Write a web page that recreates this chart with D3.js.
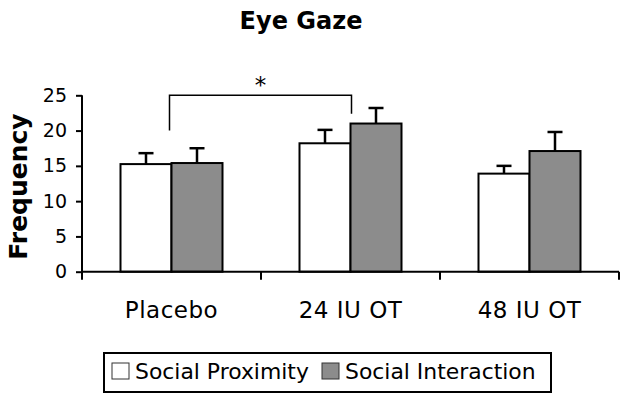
<!DOCTYPE html>
<html><head><meta charset="utf-8">
<script src="https://cdn.jsdelivr.net/npm/d3@7/dist/d3.min.js"></script>
<style>
html,body{margin:0;padding:0;background:#fff;}
svg{display:block;}
text{font-family:"DejaVu Sans",Verdana,sans-serif;fill:#000;}
</style></head>
<body>
<svg id="chart" width="629" height="404"></svg>
<script>
const categories = ["Placebo", "24 IU OT", "48 IU OT"];
const seriesNames = ["Social Proximity", "Social Interaction"];
const proximity = [15.25, 18.2, 13.9];
const proximityErr = [1.55, 1.9, 1.1];
const interaction = [15.4, 21.0, 17.1];
const interactionErr = [2.1, 2.2, 2.7];
const yTicks = [0, 5, 10, 15, 20, 25];
const sigFrom = "Placebo", sigTo = "24 IU OT";
const sigLeftValue = 20, sigRightValue = 22.4, sigTopValue = 25;
const titleText = "Eye Gaze";
const yLabel = "Frequency";

const colors = ["#ffffff", "#8c8c8c"];
const svg = d3.select("#chart");
const pLeft = 82, pRight = 619, pTop = 95.3, pBottom = 271.7;

const x = d3.scaleBand().domain(categories).range([pLeft, pRight]).padding(0);
const bw = x.bandwidth();
const barW = 51;
const xs = d3.scaleBand().domain(seriesNames).range([bw / 2 - barW, bw / 2 + barW]).padding(0);
const y = d3.scaleLinear().domain([0, 25]).range([pBottom, pTop]);

const rows = categories.map((c, i) => ({
  cat: c,
  vals: [
    {s: seriesNames[0], v: proximity[i], e: proximityErr[i], c: colors[0]},
    {s: seriesNames[1], v: interaction[i], e: interactionErr[i], c: colors[1]}
  ]
}));

// title
svg.append("text").attr("x", 301).attr("y", 29).attr("text-anchor", "middle")
  .attr("font-weight", "bold").attr("font-size", 24).text(titleText);

// y label
svg.append("text").attr("transform", `translate(27,${(pTop + pBottom) / 2 + 3}) rotate(-90)`)
  .attr("text-anchor", "middle").attr("font-weight", "bold").attr("font-size", 25).text(yLabel);

// bars + errors
const g = svg.append("g");
rows.forEach(r => {
  const gx = x(r.cat);
  r.vals.forEach(d => {
    const bx = gx + xs(d.s);
    const cx = bx + xs.bandwidth() / 2;
    g.append("line").attr("x1", cx).attr("x2", cx).attr("y1", y(d.v)).attr("y2", y(d.v + d.e))
      .attr("stroke", "#000").attr("stroke-width", 2.5);
    g.append("line").attr("x1", cx - 7.5).attr("x2", cx + 7.5).attr("y1", y(d.v + d.e)).attr("y2", y(d.v + d.e))
      .attr("stroke", "#000").attr("stroke-width", 2.5);
    g.append("rect").attr("x", bx).attr("y", y(d.v)).attr("width", xs.bandwidth()).attr("height", y(0) - y(d.v))
      .attr("fill", d.c).attr("stroke", "#000").attr("stroke-width", 2);
  });
});

// y axis
const yAxis = d3.axisLeft(y).tickValues(yTicks).tickSize(6).tickPadding(9).tickSizeOuter(0);
const ya = svg.append("g").attr("transform", `translate(${pLeft},0)`).call(yAxis);
ya.select(".domain").remove();
ya.selectAll(".tick line").attr("stroke", "#000").attr("stroke-width", 2);
ya.selectAll(".tick text").attr("font-size", 19).attr("font-family", '"DejaVu Sans",Verdana,sans-serif').attr("fill", "#000");
svg.append("line").attr("x1", pLeft).attr("x2", pLeft).attr("y1", pTop).attr("y2", pBottom + 8)
  .attr("stroke", "#000").attr("stroke-width", 2);

// x axis
svg.append("line").attr("x1", pLeft).attr("x2", pRight).attr("y1", pBottom).attr("y2", pBottom)
  .attr("stroke", "#000").attr("stroke-width", 2);
categories.forEach(c => {
  svg.append("line").attr("x1", x(c) + bw).attr("x2", x(c) + bw).attr("y1", pBottom).attr("y2", pBottom + 8)
    .attr("stroke", "#000").attr("stroke-width", 2);
  svg.append("text").attr("x", x(c) + bw / 2).attr("y", 318).attr("text-anchor", "middle")
    .attr("font-size", 23).attr("letter-spacing", 0.5).text(c);
});

// significance bracket
const sx1 = x(sigFrom) + bw / 2 - 2, sx2 = x(sigTo) + bw / 2 + 1;
svg.append("path")
  .attr("d", `M${sx1},${y(sigLeftValue)}V${y(sigTopValue)}H${sx2}V${y(sigRightValue)}`)
  .attr("fill", "none").attr("stroke", "#000").attr("stroke-width", 1.5);
svg.append("text").attr("x", (sx1 + sx2) / 2).attr("y", y(sigTopValue) - 2).attr("text-anchor", "middle")
  .attr("font-size", 23).text("*");

// legend
const lg = svg.append("g");
lg.append("rect").attr("x", 104).attr("y", 353).attr("width", 447).attr("height", 39)
  .attr("fill", "#fff").attr("stroke", "#000").attr("stroke-width", 2);
const legX = [112, 322];
seriesNames.forEach((s, i) => {
  lg.append("rect").attr("x", legX[i]).attr("y", 363).attr("width", 17).attr("height", 16)
    .attr("fill", colors[i]).attr("stroke", "#333").attr("stroke-width", 1);
  lg.append("text").attr("x", legX[i] + 23).attr("y", 379).attr("font-size", 21.9).text(s);
});
</script>
</body></html>
